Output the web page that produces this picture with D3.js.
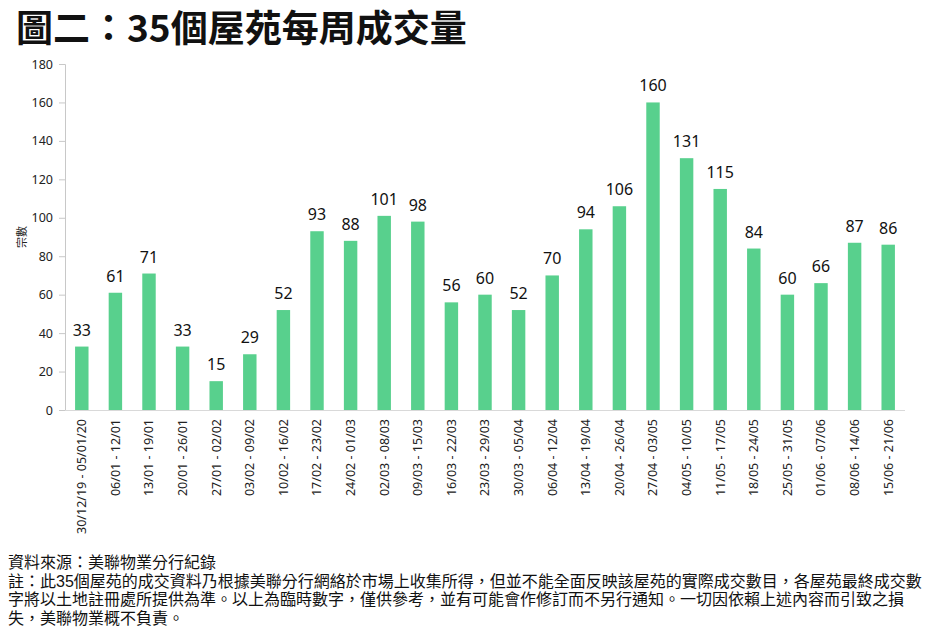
<!DOCTYPE html>
<html>
<head>
<meta charset="utf-8">
<script src="https://cdn.jsdelivr.net/npm/d3@7"></script>
<style>
  body { margin: 0; background: #fff; }
  svg { display: block; }
  text { font-family: "Noto Sans", "Noto Sans CJK TC", sans-serif; }
  .cjk { font-family: "Noto Sans CJK TC", sans-serif; }
  .note { font-family: "Liberation Sans", "Noto Sans CJK TC", sans-serif; }
</style>
</head>
<body>
<div id="chart"></div>
<script>
const weeks = [
  '30/12/19 - 05/01/20', '06/01 - 12/01', '13/01 - 19/01', '20/01 - 26/01',
  '27/01 - 02/02', '03/02 - 09/02', '10/02 - 16/02', '17/02 - 23/02',
  '24/02 - 01/03', '02/03 - 08/03', '09/03 - 15/03', '16/03 - 22/03',
  '23/03 - 29/03', '30/03 - 05/04', '06/04 - 12/04', '13/04 - 19/04',
  '20/04 - 26/04', '27/04 - 03/05', '04/05 - 10/05', '11/05 - 17/05',
  '18/05 - 24/05', '25/05 - 31/05', '01/06 - 07/06', '08/06 - 14/06',
  '15/06 - 21/06'
];
const deals = [33, 61, 71, 33, 15, 29, 52, 93, 88, 101, 98, 56, 60, 52, 70, 94, 106, 160, 131, 115, 84, 60, 66, 87, 86];
const yTicks = [0, 20, 40, 60, 80, 100, 120, 140, 160, 180];

const titleText = '圖二：35個屋苑每周成交量';
const yLabel = '宗數';
const notes = [
  '資料來源：美聯物業分行紀錄',
  '註：此35個屋苑的成交資料乃根據美聯分行網絡於市場上收集所得，但並不能全面反映該屋苑的實際成交數目，各屋苑最終成交數',
  '字將以土地註冊處所提供為準。以上為臨時數字，僅供參考，並有可能會作修訂而不另行通知。一切因依賴上述內容而引致之損',
  '失，美聯物業概不負責。'
];

const W = 937, H = 639;
const plot = { left: 65, right: 905, top: 64, bottom: 410 };

const svg = d3.select('#chart')
    .append('svg')
    .attr('width', W)
    .attr('height', H);

svg.append('text')
    .attr('class', 'cjk')
    .attr('x', 16)
    .attr('y', 42)
    .attr('font-size', 37)
    .attr('font-weight', 700)
    .attr('fill', '#111')
    .text(titleText);

const x = d3.scaleBand()
    .domain(weeks)
    .range([plot.left, plot.right])
    .paddingInner(0.6)
    .paddingOuter(0.3);

const y = d3.scaleLinear()
    .domain([0, 180])
    .range([plot.bottom, plot.top]);

// y axis
const yAxis = svg.append('g')
    .attr('transform', `translate(${plot.left},0)`)
    .call(d3.axisLeft(y).tickValues(yTicks).tickSize(6).tickPadding(6));
yAxis.select('.domain').attr('stroke', '#c8c8c8');
yAxis.selectAll('.tick line').attr('stroke', '#c8c8c8');
yAxis.selectAll('.tick text')
    .attr('font-size', 12.5)
    .attr('fill', '#222');

svg.append('text')
    .attr('class', 'cjk')
    .attr('transform', `translate(26,237) rotate(-90)`)
    .attr('text-anchor', 'middle')
    .attr('font-size', 11)
    .attr('fill', '#222')
    .text(yLabel);

// bars
svg.append('g')
    .selectAll('rect')
    .data(deals)
    .join('rect')
    .attr('x', (d, i) => x(weeks[i]))
    .attr('y', d => y(d))
    .attr('width', x.bandwidth())
    .attr('height', d => y(0) - y(d))
    .attr('fill', '#58d08d');

// x axis
const xAxis = svg.append('g')
    .attr('transform', `translate(0,${plot.bottom})`)
    .call(d3.axisBottom(x).tickSize(0).tickPadding(0));
xAxis.select('.domain')
    .attr('stroke', '#d9d9d9')
    .attr('d', `M${plot.left},0.5H${plot.right}`);
xAxis.selectAll('.tick text')
    .attr('font-size', 12.5)
    .attr('fill', '#222')
    .attr('text-anchor', 'end')
    .attr('transform', 'rotate(-90)')
    .attr('x', -9)
    .attr('y', 0)
    .attr('dy', '0.35em');

// value labels
svg.append('g')
    .selectAll('text')
    .data(deals)
    .join('text')
    .attr('x', (d, i) => x(weeks[i]) + x.bandwidth() / 2)
    .attr('y', d => y(d) - 11)
    .attr('text-anchor', 'middle')
    .attr('font-size', 16)
    .attr('fill', '#111')
    .text(d => d);

// notes (tight leading like the source)
svg.append('g')
    .selectAll('text')
    .data(notes)
    .join('text')
    .attr('class', 'note')
    .attr('x', 8)
    .attr('y', (d, i) => 568 + i * 18.6)
    .attr('font-size', 16)
    .attr('fill', '#111')
    .text(d => d);
</script>
</body>
</html>
